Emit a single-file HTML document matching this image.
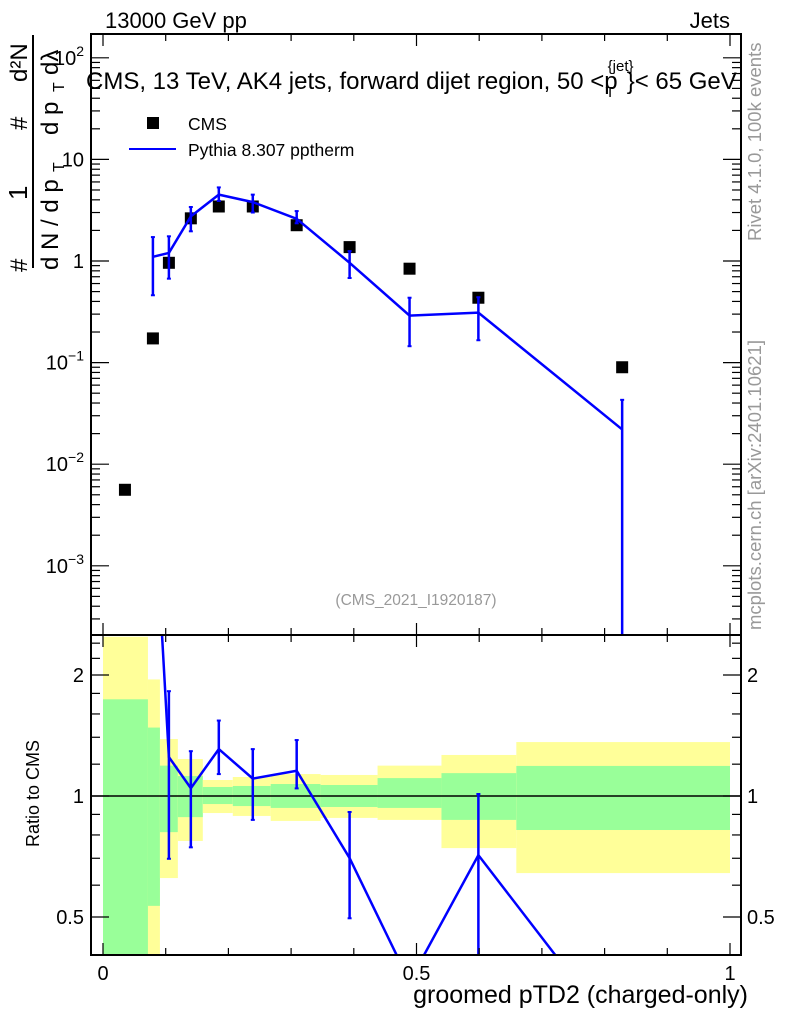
<!DOCTYPE html>
<html><head><meta charset="utf-8"><style>
html,body{margin:0;background:#fff;overflow:hidden;width:786px;height:1024px;}
svg{display:block;font-family:"Liberation Sans",sans-serif;}
</style></head><body>
<svg id="c" width="786" height="1024" viewBox="0 0 786 1024">
<defs>
<clipPath id="cm"><rect x="91" y="34" width="650" height="600"/></clipPath>
<clipPath id="cr"><rect x="91" y="635" width="650" height="320"/></clipPath>
</defs>
<g id="bands" clip-path="url(#cr)"></g>
<g id="marks"></g>
<g id="axes"></g>
<text x="105" y="28" font-size="22">13000 GeV pp</text>
<text x="730" y="28" font-size="22" text-anchor="end">Jets</text>
<text x="86" y="89" font-size="24">CMS, 13 TeV, AK4 jets, forward dijet region, 50 &lt;p<tspan font-size="15" dy="-18" dx="-10">{jet}</tspan><tspan font-size="15" dy="26" dx="-28">T</tspan><tspan dy="-8" dx="12">}&lt; 65 GeV</tspan></text>
<rect x="147" y="117" width="12" height="12" fill="#000"/>
<text x="188" y="130" font-size="17.5">CMS</text>
<line x1="129" y1="149" x2="176" y2="149" stroke="#0000ff" stroke-width="2"/>
<text x="188" y="156" font-size="17.5">Pythia 8.307 pptherm</text>
<text x="416" y="605" font-size="15.5" fill="#999" text-anchor="middle">(CMS_2021_I1920187)</text>
<text transform="translate(761,241) rotate(-90)" font-size="18.5" fill="#999">Rivet 4.1.0,  100k events</text>
<text transform="translate(761,630) rotate(-90)" font-size="18.5" fill="#999">mcplots.cern.ch [arXiv:2401.10621]</text>
<g font-size="24">
<text transform="translate(27,272) rotate(-90)">#</text>
<text transform="translate(27,200) rotate(-90)" font-size="26">1</text>
<line x1="33" y1="35" x2="33" y2="268" stroke="#000" stroke-width="2"/>
<text transform="translate(58,270) rotate(-90)">d N / d p</text>
<text transform="translate(64,172) rotate(-90)" font-size="16">T</text>
<text transform="translate(27,130) rotate(-90)">#</text>
<text transform="translate(58,135) rotate(-90)">d p</text>
<text transform="translate(64,92) rotate(-90)" font-size="16">T</text>
<text transform="translate(58,75) rotate(-90)">dλ</text>
<text transform="translate(27,82) rotate(-90)">d²N</text>
</g>
<text transform="translate(39,847) rotate(-90)" font-size="18">Ratio to CMS</text>
<text x="748" y="1003" font-size="25" text-anchor="end">groomed pTD2 (charged-only)</text>
</svg>
<script>
const xEdges=[0,0.0717,0.0908,0.1194,0.1592,0.2070,0.2675,0.3471,0.4379,0.5398,0.6592,1.0];
const cmsX=[0.0350,0.0796,0.1051,0.1401,0.1847,0.2389,0.3089,0.3933,0.4889,0.5987,0.8280];
const cmsY=[0.0056,0.173,0.96,2.63,3.44,3.44,2.25,1.37,0.84,0.435,0.090];
const pyX=[0.0796,0.1051,0.1401,0.1847,0.2389,0.3089,0.3933,0.4889,0.5987,0.8280];
const pyY=[1.1,1.2,2.75,4.5,3.8,2.6,0.96,0.29,0.31,0.022];
const pyHi=[1.72,1.75,3.4,5.3,4.5,3.1,1.25,0.435,0.44,0.043];
const pyLo=[0.46,0.67,1.96,3.9,3.0,2.35,0.68,0.145,0.166,0.0];
const yelHi=[2.49,1.95,1.386,1.236,1.096,1.115,1.134,1.128,1.19,1.265,1.362];
const yelLo=[0.01,0.01,0.625,0.773,0.907,0.892,0.867,0.882,0.872,0.742,0.643];
const grnHi=[1.74,1.48,1.19,1.121,1.053,1.059,1.071,1.065,1.108,1.14,1.188];
const grnLo=[0.01,0.533,0.813,0.886,0.955,0.944,0.934,0.939,0.934,0.872,0.823];
const xTicks=[0,0.5,1];
const xTickLabels=["0","0.5","1"];
const mainTicks=[0.001,0.01,0.1,1,10,100];
const mainTickLabels=["10^-3","10^-2","10^-1","1","10","10^2"];
const ratioTicks=[0.5,1,2];
const ratioTickLabels=["0.5","1","2"];

const NS="http://www.w3.org/2000/svg";
const X=v=>103+v*627;
const Y=v=>261-Math.log10(Math.max(v,1e-9))*101.6;
const R=v=>796-Math.log2(Math.max(v,1e-9))*121;
function mk(p,t,a){const e=document.createElementNS(NS,t);for(const k in a)e.setAttribute(k,a[k]);p.appendChild(e);return e;}
const bands=document.getElementById('bands'),marks=document.getElementById('marks'),axes=document.getElementById('axes');

for(let i=0;i<yelHi.length;i++){
  let r=mk(bands,'rect',{x:X(xEdges[i]),y:R(yelHi[i]),width:X(xEdges[i+1])-X(xEdges[i]),height:R(yelLo[i])-R(yelHi[i]),fill:'#ffff99'});
  
  
  let g=mk(bands,'rect',{x:X(xEdges[i]),y:R(grnHi[i]),width:X(xEdges[i+1])-X(xEdges[i]),height:R(grnLo[i])-R(grnHi[i]),fill:'#99ff99'});
  
  
}
const ref=mk(bands,'line',{x1:91,x2:741,y1:R(1),y2:R(1),stroke:'#000','stroke-width':1.5});



const gm=mk(marks,'g',{'clip-path':'url(#cm)'});
const gr=mk(marks,'g',{'clip-path':'url(#cr)'});
cmsX.forEach((x,i)=>{
  const s=mk(gm,'rect',{x:X(x)-6,y:Y(cmsY[i])-6,width:12,height:12,fill:'#000'});
  
  
});
const pl=mk(gm,'polyline',{points:pyX.map((x,i)=>X(x)+','+Y(pyY[i])).join(' '),fill:'none',stroke:'#0000ff','stroke-width':2.5});


const cmsAt=x=>cmsY[cmsX.indexOf(x)];
const rv=pyX.map((x,i)=>pyY[i]/cmsAt(x));
const rl=mk(gr,'polyline',{points:pyX.map((x,i)=>X(x)+','+R(rv[i])).join(' '),fill:'none',stroke:'#0000ff','stroke-width':2.5});


function err(g,x,y1,y2,name){
  const e=mk(g,'g',{stroke:'#0000ff','stroke-width':2.5});
  
  
  mk(e,'line',{x1:x,x2:x,y1:y1,y2:y2});
  mk(e,'line',{x1:x-2,x2:x+2,y1:y1,y2:y1,'stroke-width':2});
  mk(e,'line',{x1:x-2,x2:x+2,y1:y2,y2:y2,'stroke-width':2});
}
pyX.forEach((x,i)=>{
  err(gm,X(x),Y(pyHi[i]),Y(pyLo[i]),'pythia-errorbar');
  const c=cmsAt(x);
  const ry=R(rv[i]);
  if(ry>=635&&ry<=955) err(gr,X(x),R(pyHi[i]/c),R(pyLo[i]/c),'ratio-errorbar');
});

function frame(y1,y2,name){const f=mk(axes,'rect',{x:91,y:y1,width:650,height:y2-y1,fill:'none',stroke:'#000','stroke-width':2});
}
frame(34,635,'main-frame');frame(635,955,'ratio-frame');
const T=(a)=>mk(axes,'line',Object.assign({stroke:'#000','stroke-width':1.2},a));
for(let k=0;k<=10;k++){const x=X(k/10),L=k%5==0?12:7;
  T({x1:x,x2:x,y1:34,y2:34+L});T({x1:x,x2:x,y1:635,y2:635-L});T({x1:x,x2:x,y1:635,y2:635+L});T({x1:x,x2:x,y1:955,y2:955-L});}
xTicks.forEach((v,i)=>{const t=mk(axes,'text',{x:X(v),y:980,'font-size':20,'text-anchor':'middle'});t.textContent=xTickLabels[i];
});
for(let d=-4;d<=2;d++)for(let m=1;m<10;m++){const y=Y(m*Math.pow(10,d));if(y<34||y>635)continue;const L=m==1?18:9;
  T({x1:91,x2:91+L,y1:y,y2:y});T({x1:741,x2:741-L,y1:y,y2:y});}
mainTicks.forEach((v,i)=>{const lab=mainTickLabels[i];const t=mk(axes,'text',{x:84,y:Y(v)+7,'font-size':20,'text-anchor':'end'});
  if(lab.includes('^')){const [b,e]=lab.split('^');t.textContent=b;const s=mk(t,'tspan',{dy:-9,'font-size':14});s.textContent=e.replace('-','−');}else t.textContent=lab;
  });
[0.4,0.5,0.6,0.7,0.8,0.9,1,1.2,1.4,1.6,1.8,2,2.2,2.4].forEach(v=>{const y=R(v);if(y<636||y>954)return;const L=[0.5,1,2].includes(v)?18:9;
  T({x1:91,x2:91+L,y1:y,y2:y});T({x1:741,x2:741-L,y1:y,y2:y});});
ratioTicks.forEach((v,i)=>{const t=mk(axes,'text',{x:84,y:R(v)+7,'font-size':20,'text-anchor':'end'});t.textContent=ratioTickLabels[i];
  
  const t2=mk(axes,'text',{x:747,y:R(v)+7,'font-size':20});t2.textContent=ratioTickLabels[i];
  });
</script>
</body></html>
